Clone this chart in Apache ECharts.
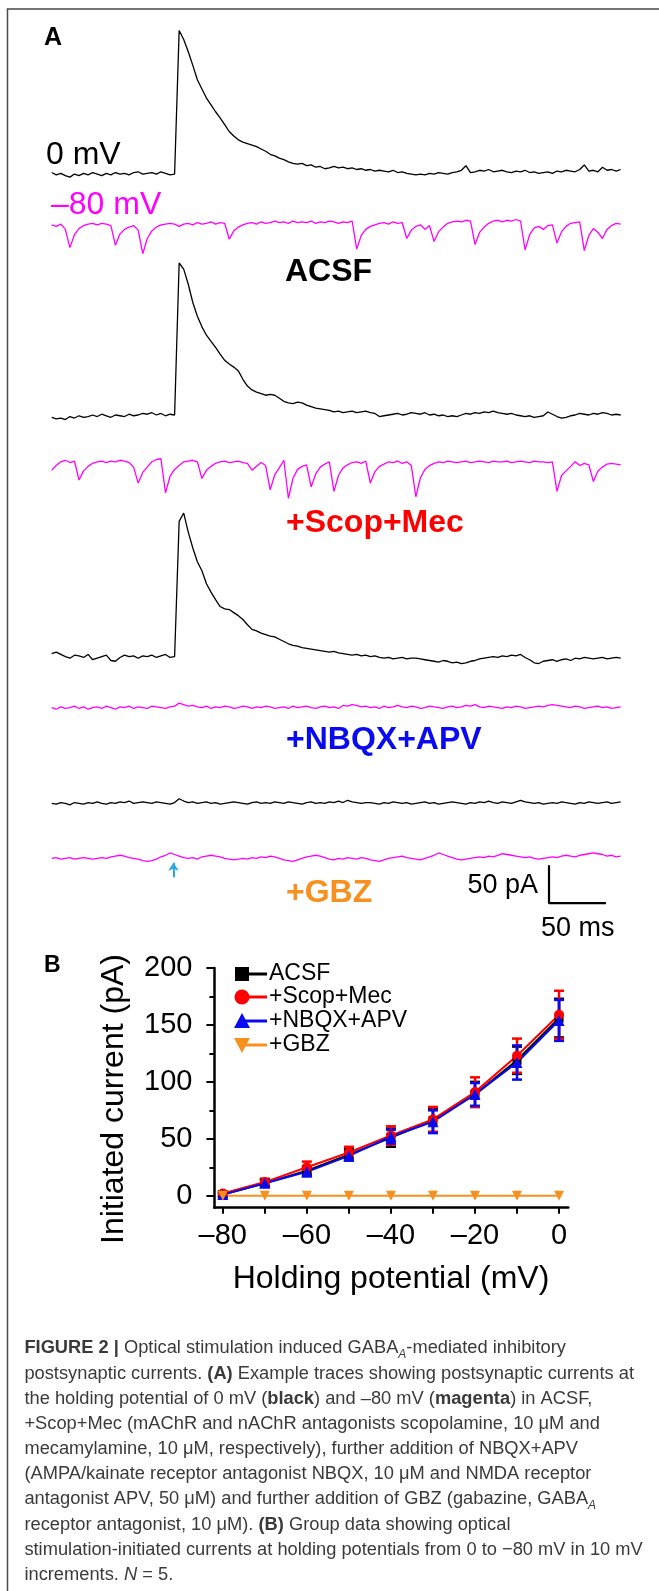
<!DOCTYPE html>
<html><head><meta charset="utf-8">
<script src="https://cdn.jsdelivr.net/npm/echarts@6/dist/echarts.min.js"></script>
<style>html,body{margin:0;padding:0;background:#fff}#c{width:659px;height:1591px}</style>
</head><body><div id="c"></div>
<script>
// ---------- DATA ----------
// Panel A traces: current (pA, relative to baseline), sampled every SAMPLE_MS from 0 to 500 ms
const SAMPLE_MS = 4;
const traceAcsf0mV = [
 1,-2,0,-3,-5,-1,-3,0,-2,1,
 -1,-3,0,-2,1,-1,0,-2,1,2,
 -1,0,1,-1,2,0,-2,-1,188,176,
 160,142,123,111,99,90,81,73,64,55,
 49,44,41,39,37,35,32,29,25,23,
 20,18,15,13,12,13,10,11,8,9,
 6,7,9,7,8,6,7,5,6,4,
 5,3,4,3,2,4,1,2,0,-1,
 -2,-1,-2,0,-1,1,0,-1,1,2,
 4,10,1,2,4,3,5,2,3,4,
 2,1,3,2,4,1,2,0,1,2,
 0,3,2,4,3,2,5,11,3,4,
 2,8,4,5,3,5];
const traceAcsf80mV = [
 -2,-4,-1,-8,-32,-15,-7,-3,-1,0,
 -2,0,-1,-3,-29,-14,-8,-5,-3,-9,
 -40,-20,-10,-5,-2,-1,0,-1,-4,-1,
 0,-2,1,-1,0,2,-1,1,0,-21,
 -10,-5,-2,0,1,-1,2,0,1,3,
 1,2,0,3,1,2,1,3,0,2,
 1,3,2,0,2,1,3,-34,-16,-8,
 -4,-2,0,1,-1,2,0,1,-20,-9,
 -4,-2,-8,-3,-24,-11,-5,0,2,3,
 2,4,3,-28,-12,-5,0,3,4,2,
 4,3,5,3,-35,-15,-6,-4,-8,-3,
 -2,-26,-11,-4,0,1,2,-36,-16,-7,
 -12,-20,-8,-3,0,-1];
const traceScop0mV = [
 -3,-5,-4,-6,-2,-4,-1,-3,-2,0,
 -2,1,-1,-3,0,-1,-2,1,-1,0,
 2,1,3,0,2,-1,1,0,200,192,
 172,148,130,116,105,97,89,80,72,67,
 63,58,47,38,33,30,28,26,27,26,
 22,18,16,15,17,16,13,11,9,8,
 7,6,4,5,3,4,5,3,4,5,
 3,2,-2,-1,0,1,2,0,1,3,
 2,1,3,0,1,-1,0,-2,-1,-2,
 0,2,1,3,2,4,3,5,3,2,
 1,2,0,-1,-2,-1,-3,-2,-1,4,
 1,-2,-4,-3,-1,0,2,1,0,2,
 1,3,2,0,1,0];
const traceScop80mV = [
 -9,-3,2,4,1,3,-22,-10,-4,0,
 2,3,1,3,2,4,3,1,-5,-26,
 -12,-5,2,5,6,-39,-17,-8,-3,2,
 3,4,2,-20,-9,-4,0,2,3,1,
 2,3,1,0,-9,-4,1,-3,-35,-15,
 -6,4,-46,-20,-8,-4,-2,-31,-14,-5,
 -1,2,-37,-16,-6,-2,1,2,0,3,
 -26,-11,-4,-1,2,1,3,0,2,-3,
 -44,-19,-8,-3,0,2,1,3,2,1,
 2,3,1,2,3,2,1,3,2,2,
 3,1,2,3,2,1,3,2,2,1,
 2,-37,-16,-10,-4,2,-3,0,-2,-24,
 -10,-5,-1,0,-1,-2];
const traceNbqx0mV = [
 4,6,3,0,-2,2,1,-1,3,-4,
 -2,0,2,-5,-6,-1,2,0,1,-2,
 1,0,2,-1,1,3,-1,0,178,189,
 164,143,125,113,96,85,75,66,63,62,
 58,54,49,42,36,34,31,29,27,26,
 23,20,17,15,14,12,11,10,9,8,
 7,6,7,5,4,3,2,3,1,2,
 0,1,-1,-2,-1,-3,-2,-1,-3,-2,
 -2,-3,-4,-5,-6,-7,-5,-6,-8,-7,
 -9,-8,-6,-5,-3,-2,-1,0,-1,1,
 0,2,1,3,-1,-4,-8,-9,-6,-5,
 -4,-6,-4,-3,-5,-2,-3,-1,-2,-3,
 -2,-1,-3,-2,-1,-2];
const traceNbqx80mV = [
 0,-2,1,-1,0,2,-1,1,-2,0,
 1,-1,2,0,-2,1,0,2,-1,1,
 0,-1,2,1,0,-1,1,2,6,4,
 2,3,1,0,2,-1,1,0,2,1,
 -1,0,2,1,-1,1,0,2,1,-1,
 0,1,-1,2,0,1,2,0,-1,1,
 2,0,1,-1,3,2,4,3,1,2,
 0,1,-1,2,0,1,3,1,0,2,
 1,-1,0,2,1,0,-1,1,2,0,
 1,3,2,4,1,0,2,1,0,-1,
 1,0,2,1,-1,0,1,2,1,3,
 4,3,2,1,0,2,1,-1,0,1,
 2,0,1,-1,0,1];
const traceGbz0mV = [
 0,-1,1,0,-2,1,0,-1,1,0,
 2,0,-1,1,0,2,1,3,0,1,
 2,1,0,2,1,0,-1,1,6,3,
 1,2,0,1,2,0,1,-1,0,1,
 2,1,0,-1,1,2,0,1,0,2,
 1,0,2,1,0,-1,1,2,0,1,
 0,2,1,3,1,4,2,1,0,1,
 1,0,-1,1,0,2,1,0,1,-1,
 0,1,2,0,1,-1,0,1,2,1,
 0,-1,1,0,2,1,3,1,0,2,
 1,0,2,4,2,1,0,1,-1,0,
 1,0,2,1,0,-1,1,0,2,1,
 0,1,2,0,1,2];
const traceGbz80mV = [
 0,1,-1,0,1,-1,0,1,0,-1,
 0,1,0,2,3,4,3,1,0,-1,
 -3,-4,-3,-1,2,4,7,5,3,1,
 0,1,-1,2,3,4,3,2,0,-1,
 -2,-1,0,-1,1,0,2,1,3,2,
 0,-2,-3,-4,-2,0,2,3,4,3,
 1,-1,-2,0,-1,1,0,-1,1,0,
 -2,-3,-4,-2,0,1,2,3,1,0,
 -1,-2,0,2,4,7,5,3,1,-1,
 -2,-1,0,1,2,1,3,2,4,6,
 5,4,3,2,1,2,0,-1,0,1,
 2,1,3,4,3,2,4,5,6,7,
 6,5,3,4,2,3];
// Scale bar (50 pA, 50 ms) and stimulus arrow, in trace units (ms, pA)
const scaleBarTimes = [437, 437, 487];
const scaleBarValues = [-9, -59, -59];
const stimArrowTime = 107;
const stimArrowValues = [-25, -6];

// Panel B: holding potential (mV) vs initiated current (pA), mean and SEM
const holdingPotentials = [-80, -70, -60, -50, -40, -30, -20, -10, 0];
const acsfMean = [1, 11, 22, 36, 51, 66, 89, 119, 156];
const acsfSem  = [2, 3, 4, 5, 8, 10, 11, 12, 17];
const scopMean = [2, 12, 25, 38, 53, 67, 91, 123, 159];
const scopSem  = [2, 3, 5, 5, 8, 11, 13, 15, 21];
const nbqxMean = [1, 11, 21, 35, 52, 65, 89, 117, 154];
const nbqxSem  = [2, 3, 4, 4, 6, 10, 10, 15, 18];
const gbzMean  = [0, 0, 0, 0, 0, 0, 0, 0, 0];
const gbzSem   = [0, 0, 0, 0, 0, 0, 0, 0, 0];
const xTicks = [-80, -70, -60, -50, -40, -30, -20, -10, 0];
const xLabels = [-80, -60, -40, -20, 0];
const yTicks = [0, 50, 100, 150, 200];
const yMinorTicks = [25, 75, 125, 175];

// ---------- STYLE / LAYOUT ----------
const FF = "'Liberation Sans', Arial, Helvetica, sans-serif";
const BLACK = '#000000', MAGENTA = '#ff00ff', RED = '#ff0000', BLUE = '#0a0af0', ORANGE = '#f7901e', CYAN = '#29abe2';
const K = 0.76; // px per pA
const traceLayout = [
  {data: traceAcsf0mV, color: BLACK, base: 173.3},
  {data: traceAcsf80mV, color: MAGENTA, base: 223.3},
  {data: traceScop0mV, color: BLACK, base: 415},
  {data: traceScop80mV, color: MAGENTA, base: 463.3},
  {data: traceNbqx0mV, color: BLACK, base: 656.7},
  {data: traceNbqx80mV, color: MAGENTA, base: 707.7},
  {data: traceGbz0mV, color: BLACK, base: 803.3},
  {data: traceGbz80mV, color: MAGENTA, base: 858.3}
];
const grids = [], xAxes = [], yAxes = [], series = [];
traceLayout.forEach((t, i) => {
  grids.push({left: 51.7, width: 569, top: t.base - 220 * K, height: 300 * K});
  xAxes.push({gridIndex: i, type: 'value', min: 0, max: 500, show: false});
  yAxes.push({gridIndex: i, type: 'value', min: -80, max: 220, show: false});
  series.push({type: 'line', xAxisIndex: i, yAxisIndex: i, silent: true,
    data: t.data.map((v, j) => [j * SAMPLE_MS, v]),
    symbol: 'none', lineStyle: {color: t.color, width: 1.3}});
});
// scale bar + arrow on last trace grid
series.push({type: 'line', xAxisIndex: 7, yAxisIndex: 7, silent: true,
  data: scaleBarTimes.map((t, i) => [t, scaleBarValues[i]]),
  symbol: 'none', lineStyle: {color: BLACK, width: 2.2},
  markLine: {silent: true, symbol: ['none', 'arrow'], symbolSize: 8, label: {show: false},
    lineStyle: {color: CYAN, width: 2, type: 'solid'},
    data: [[{coord: [stimArrowTime, stimArrowValues[0]]}, {coord: [stimArrowTime, stimArrowValues[1]]}]]}
});

// Panel B grid (index 8)
grids.push({left: 214.4, width: 353.9, top: 968, height: 239.7});
const axisLineStyle = {color: BLACK, width: 2.5};
xAxes.push({gridIndex: 8, type: 'value', min: -82, max: 2.2, position: 'bottom',
  axisLine: {show: true, onZero: false, lineStyle: axisLineStyle},
  axisTick: {show: true, customValues: xTicks, length: 6, lineStyle: {color: BLACK, width: 2}},
  axisLabel: {customValues: xLabels, color: BLACK, fontSize: 29, fontFamily: FF, margin: 14,
    formatter: v => v < 0 ? '\u2013' + Math.abs(v) : String(v)},
  splitLine: {show: false}});
yAxes.push({gridIndex: 8, type: 'value', min: -10.5, max: 200, position: 'left',
  axisLine: {show: true, onZero: false, lineStyle: axisLineStyle},
  axisTick: {show: true, customValues: yTicks, length: 8, lineStyle: {color: BLACK, width: 2}},
  axisLabel: {customValues: yTicks, color: BLACK, fontSize: 29, fontFamily: FF, margin: 22},
  splitLine: {show: false}});
yAxes.push({gridIndex: 8, type: 'value', min: -10.5, max: 200, position: 'left', offset: 0,
  axisLine: {show: false, onZero: false},
  axisTick: {show: true, customValues: yMinorTicks, length: 5, lineStyle: {color: BLACK, width: 2}},
  axisLabel: {show: false}, splitLine: {show: false}});

const groupSets = [
  {name: 'ACSF', mean: acsfMean, sem: acsfSem, color: BLACK, symbol: 'rect', size: 9, rot: 0},
  {name: '+Scop+Mec', mean: scopMean, sem: scopSem, color: RED, symbol: 'circle', size: 10, rot: 0},
  {name: '+NBQX+APV', mean: nbqxMean, sem: nbqxSem, color: BLUE, symbol: 'triangle', size: 11, rot: 0},
  {name: '+GBZ', mean: gbzMean, sem: gbzSem, color: ORANGE, symbol: 'triangle', size: 10, rot: 180}
];
groupSets.forEach(g => {
  if (g.sem.some(s => s > 0)) {
    series.push({type: 'custom', xAxisIndex: 8, yAxisIndex: 8, silent: true,
      data: holdingPotentials.map((x, i) => [x, g.mean[i] - g.sem[i], g.mean[i] + g.sem[i]]),
      renderItem: (params, api) => {
        const x = api.value(0);
        const lo = api.coord([x, api.value(1)]), hi = api.coord([x, api.value(2)]);
        const w = 5, st = {stroke: g.color, lineWidth: 2.5};
        return {type: 'group', children: [
          {type: 'line', shape: {x1: lo[0], y1: lo[1], x2: hi[0], y2: hi[1]}, style: st},
          {type: 'line', shape: {x1: lo[0] - w, y1: lo[1], x2: lo[0] + w, y2: lo[1]}, style: st},
          {type: 'line', shape: {x1: hi[0] - w, y1: hi[1], x2: hi[0] + w, y2: hi[1]}, style: st}
        ]};
      }});
  }
  series.push({type: 'line', name: g.name, xAxisIndex: 8, yAxisIndex: 8, silent: true,
    data: holdingPotentials.map((x, i) => [x, g.mean[i]]),
    symbol: g.symbol, symbolSize: g.size, symbolRotate: g.rot, showAllSymbol: true,
    itemStyle: {color: g.color}, lineStyle: {color: g.color, width: 2}});
});

// ---------- TEXT / ANNOTATION GRAPHICS ----------
const G = [];
function txt(text, x, y, size, color, opts) {
  opts = opts || {};
  G.push({type: 'text', x: x, y: y, rotation: opts.rotation || 0, silent: true,
    style: {text: text, fill: color, font: (opts.bold ? 'bold ' : '') + size + 'px ' + FF,
      textAlign: opts.align || 'left', textVerticalAlign: 'middle'}});
}
// border
G.push({type: 'polyline', silent: true, shape: {points: [[659, 9], [7.5, 9], [7.5, 1591]]},
  style: {stroke: '#4a4a4a', lineWidth: 1.5, fill: null}});
txt('A', 44, 38, 25, BLACK, {bold: true});
txt('0 mV', 46, 155, 32, BLACK);
txt('\u201380 mV', 51, 205, 32, MAGENTA);
txt('ACSF', 285, 272, 32, BLACK, {bold: true});
txt('+Scop+Mec', 286, 523, 32, RED, {bold: true});
txt('+NBQX+APV', 286, 740, 32, BLUE, {bold: true});
txt('+GBZ', 286, 893, 32, ORANGE, {bold: true});
txt('50 pA', 538, 886, 27, BLACK, {align: 'right'});
txt('50 ms', 541, 929, 27, BLACK);
txt('B', 44, 966, 23, BLACK, {bold: true});
txt('Initiated current (pA)', 114, 1099, 32, BLACK, {align: 'center', rotation: Math.PI / 2});
txt('Holding potential (mV)', 391, 1279, 32, BLACK, {align: 'center'});

// legend
const legendY = [974, 997, 1021, 1045];
groupSets.forEach((g, i) => {
  const y = legendY[i], sx = 242;
  G.push({type: 'line', silent: true, shape: {x1: sx, y1: y, x2: 267, y2: y}, style: {stroke: g.color, lineWidth: 3}});
  let shape;
  if (g.symbol === 'rect') shape = {type: 'rect', shape: {x: sx - 7, y: y - 7, width: 14, height: 14}};
  else if (g.symbol === 'circle') shape = {type: 'circle', shape: {cx: sx, cy: y, r: 7.5}};
  else if (g.rot === 0) shape = {type: 'polygon', shape: {points: [[sx, y - 8], [sx + 8, y + 7], [sx - 8, y + 7]]}};
  else shape = {type: 'polygon', shape: {points: [[sx - 8, y - 7], [sx + 8, y - 7], [sx, y + 8]]}};
  shape.silent = true; shape.style = {fill: g.color};
  G.push(shape);
  txt(g.name, 269, y, 23, BLACK);
});

// caption
const CAP = 18.3, CAPC = '#3a3a3a';
const rich = {
  n: {fontSize: CAP, fontFamily: FF, color: CAPC, lineHeight: 25},
  b: {fontSize: CAP, fontFamily: FF, fontWeight: 'bold', color: '#222', lineHeight: 25},
  i: {fontSize: CAP, fontFamily: FF, fontStyle: 'italic', color: CAPC, lineHeight: 25},
  s: {fontSize: 12, fontFamily: FF, fontStyle: 'italic', color: CAPC, lineHeight: 16, verticalAlign: 'bottom'}
};
const captionLines = [
  '{b|FIGURE 2 | }{n|Optical stimulation induced GABA}{s|A}{n|-mediated inhibitory}',
  '{n|postsynaptic currents. }{b|(A)}{n| Example traces showing postsynaptic currents at}',
  '{n|the holding potential of 0 mV (}{b|black}{n|) and \u201380 mV (}{b|magenta}{n|) in ACSF,}',
  '{n|+Scop+Mec (mAChR and nAChR antagonists scopolamine, 10 \u03bcM and}',
  '{n|mecamylamine, 10 \u03bcM, respectively), further addition of NBQX+APV}',
  '{n|(AMPA/kainate receptor antagonist NBQX, 10 \u03bcM and NMDA receptor}',
  '{n|antagonist APV, 50 \u03bcM) and further addition of GBZ (gabazine, GABA}{s|A}',
  '{n|receptor antagonist, 10 \u03bcM). }{b|(B)}{n| Group data showing optical}',
  '{n|stimulation-initiated currents at holding potentials from 0 to \u221280 mV in 10 mV}',
  '{n|increments. }{i|N}{n| = 5.}'
];
captionLines.forEach((line, i) => {
  G.push({type: 'text', x: 24.4, y: 1348.3 + 25.19 * i, silent: true,
    style: {text: line, rich: rich, font: CAP + 'px ' + FF, fill: CAPC, textAlign: 'left', textVerticalAlign: 'middle'}});
});

const chart = echarts.init(document.getElementById('c'), null, {renderer: 'canvas'});
chart.setOption({
  animation: false,
  backgroundColor: '#ffffff',
  grid: grids, xAxis: xAxes, yAxis: yAxes, series: series,
  graphic: {elements: G}
});
</script></body></html>
